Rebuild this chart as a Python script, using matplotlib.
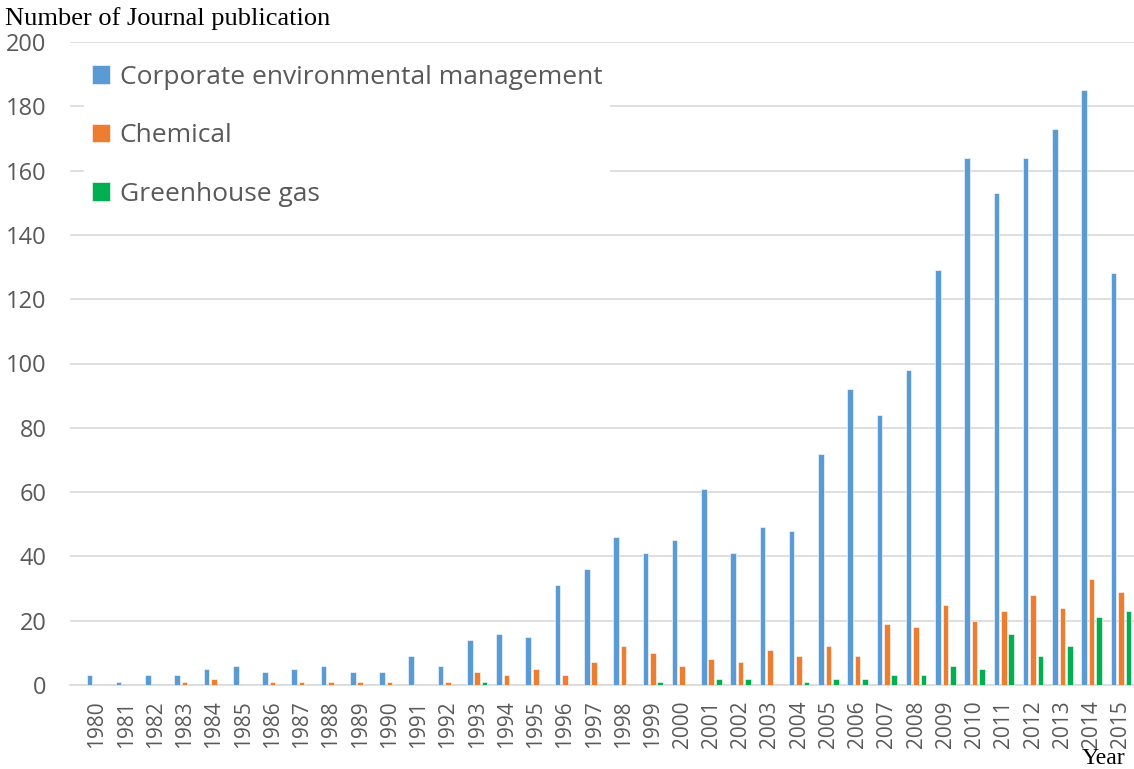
import numpy as np
import matplotlib
matplotlib.use("Agg")
import matplotlib.pyplot as plt

# data
years = [str(y) for y in range(1980, 2016)]
corporate = [3, 1, 3, 3, 5, 6, 4, 5, 6, 4, 4, 9, 6, 14, 16, 15, 31, 36, 46, 41,
             45, 61, 41, 49, 48, 72, 92, 84, 98, 129, 164, 153, 164, 173, 185, 128]
chemical = [0, 0, 0, 1, 2, 0, 1, 1, 1, 1, 1, 0, 1, 4, 3, 5, 3, 7, 12, 10,
            6, 8, 7, 11, 9, 12, 9, 19, 18, 25, 20, 23, 28, 24, 33, 29]
greenhouse = [0, 0, 0, 0, 0, 0, 0, 0, 0, 0, 0, 0, 0, 1, 0, 0, 0, 0, 0, 1,
              0, 2, 2, 0, 1, 2, 2, 3, 3, 6, 5, 16, 9, 12, 21, 23]
labels = ["Corporate environmental management", "Chemical", "Greenhouse gas"]
colors = ["#5B9BD5", "#ED7D31", "#00B050"]

plt.rcParams['font.family'] = ['Open Sans', 'DejaVu Sans']

fig = plt.figure(figsize=(11.34, 7.69), dpi=100)
ax = fig.add_axes([70/1134, 1 - 685/769, 1 - 70/1134, (685 - 42)/769])

x = np.arange(len(years))
w = 0.19
step = 0.255
for i, (vals, lab, c) in enumerate(zip([corporate, chemical, greenhouse], labels, colors)):
    ax.bar(x + (i - 1) * step, vals, width=w, color=c, label=lab,
           edgecolor="white", linewidth=0.4, zorder=3)

ax.set_ylim(0, 200)
ax.set_yticks(range(0, 201, 20))
ax.set_xlim(-0.92, 35.45)
ax.set_xticks(x)
ax.set_xticklabels(years, rotation=90)
ax.tick_params(axis="y", length=0, pad=17, labelsize=17, labelcolor="#595959")
ax.tick_params(axis="x", length=0, pad=11, labelsize=15, labelcolor="#595959")
ax.grid(axis="y", color="#d9d9d9", linewidth=1.2, zorder=0)
for s in ["top", "right", "left"]:
    ax.spines[s].set_visible(False)
ax.spines["bottom"].set_color("#d9d9d9")
ax.spines["bottom"].set_linewidth(1.2)

leg = ax.legend(loc="upper left", bbox_to_anchor=(84/1134, 1 - 57/769),
                bbox_transform=fig.transFigure, fontsize=19, frameon=True,
                framealpha=1, edgecolor="none", facecolor="white",
                handlelength=0.7, handleheight=0.7, handletextpad=0.35,
                labelspacing=1.27, borderpad=0.3, borderaxespad=0)
for t in leg.get_texts():
    t.set_color("#595959")
leg.set_zorder(5)

fig.text(5/1134, 1 - 19/769, "Number of Journal publication", fontsize=19,
         family="Liberation Serif", va="center", ha="left")
fig.text(1125/1134, 1 - 758/769, "Year", fontsize=17,
         family="Liberation Serif", va="center", ha="right")

plt.savefig("out.png", dpi=100)
